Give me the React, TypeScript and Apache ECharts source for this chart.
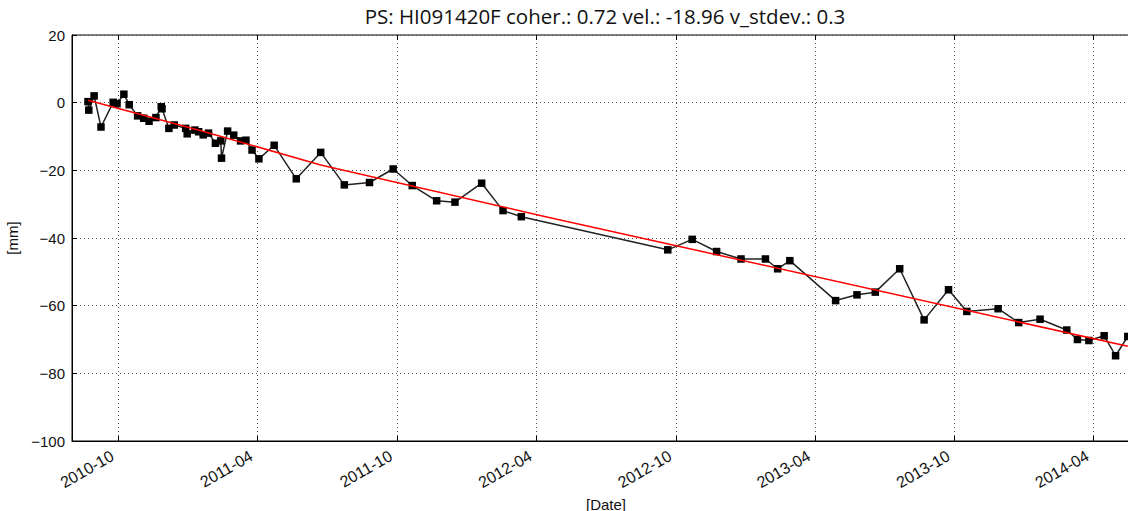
import React, { useEffect, useRef } from "react";
import * as echarts from "echarts";

const TITLE = "PS: HI091420F coher.: 0.72 vel.: -18.96 v_stdev.: 0.3";

const dates: string[] = [
  "2010-08-22", "2010-08-23", "2010-08-30", "2010-09-08", "2010-09-24", "2010-09-29",
  "2010-10-08", "2010-10-15", "2010-10-26", "2010-11-03", "2010-11-10", "2010-11-19",
  "2010-11-26", "2010-11-27", "2010-12-06", "2010-12-13", "2010-12-28", "2010-12-30",
  "2011-01-09", "2011-01-14", "2011-01-20", "2011-01-27", "2011-02-05", "2011-02-12",
  "2011-02-13", "2011-02-21", "2011-03-01", "2011-03-10", "2011-03-17", "2011-03-25",
  "2011-04-03", "2011-04-23", "2011-05-22", "2011-06-23", "2011-07-24", "2011-08-26",
  "2011-09-26", "2011-10-21", "2011-11-22", "2011-12-16", "2012-01-20", "2012-02-17",
  "2012-03-12", "2012-09-20", "2012-10-22", "2012-11-23", "2012-12-25", "2013-01-26",
  "2013-02-11", "2013-02-27", "2013-04-28", "2013-05-26", "2013-06-19", "2013-07-21",
  "2013-08-22", "2013-09-23", "2013-10-17", "2013-11-27", "2013-12-24", "2014-01-21",
  "2014-02-25", "2014-03-11", "2014-03-26", "2014-04-15", "2014-04-30", "2014-05-16",
];

const displacement: number[] = [
  0.3, -2.2, 2.0, -7.2, 0.1, -0.3,
  2.5, -0.6, -3.9, -4.6, -5.5, -4.4,
  -1.2, -1.8, -7.6, -6.6, -7.6, -9.2,
  -8.1, -8.6, -9.5, -9.0, -12.0, -11.3,
  -16.4, -8.4, -9.6, -11.3, -11.1, -14.0,
  -16.6, -12.6, -22.5, -14.7, -24.3, -23.6,
  -19.6, -24.5, -29.0, -29.4, -23.8, -31.9,
  -33.7, -43.5, -40.4, -44.0, -46.2, -46.2,
  -49.1, -46.7, -58.5, -56.8, -56.0, -49.1,
  -64.2, -55.3, -61.7, -60.9, -65.0, -64.0,
  -67.2, -70.0, -70.3, -68.9, -74.8, -69.1,
];

const fitDates: string[] = ["2010-08-22", "2011-01-17", "2011-06-23", "2012-04-07", "2014-05-16"];
const fitValues: number[] = [0.7, -8.3, -18.4, -33.4, -72.0];

const xTickDates: string[] = [
  "2010-10-01", "2011-04-01", "2011-10-01", "2012-04-01",
  "2012-10-01", "2013-04-01", "2013-10-01", "2014-04-01",
];
const xMinDate = "2010-08-01";
const xMaxDate = "2014-06-01";
const yTicks = { min: -100, max: 20, interval: 20 };

const toTs = (s: string) => {
  const [y, m, d] = s.split("-").map(Number);
  return new Date(y, m - 1, d).getTime();
};
const fmtMonth = (v: number) => {
  const d = new Date(v);
  return `${d.getFullYear()}-${String(d.getMonth() + 1).padStart(2, "0")}`;
};
const fmtY = (v: number) => (v < 0 ? "\u2212" + Math.abs(v) : String(v));

export default function App() {
  const ref = useRef<HTMLDivElement>(null);
  useEffect(() => {
    document.body.style.margin = "0";
    if (!ref.current) return;
    const chart = echarts.init(ref.current, undefined, { renderer: "svg" });
    const tickVals = xTickDates.map(toTs);
    const xmin = toTs(xMinDate);
    const xmax = toTs(xMaxDate);
    const labelFont = "'Liberation Sans', Arial, sans-serif";
    const gridLine = { show: true, lineStyle: { color: "#555", type: [1, 3] as any, width: 1 } };
    chart.setOption({
      animation: false,
      backgroundColor: "#fff",
      title: {
        text: TITLE,
        left: 605,
        textAlign: "center",
        top: 5,
        padding: 0,
        textStyle: { fontFamily: "'Open Sans', sans-serif", fontSize: 20.5, fontWeight: "normal", color: "#111" },
      },
      grid: {
        left: 72,
        right: 0,
        top: 35,
        bottom: 70,
        containLabel: false,
        outerBoundsMode: "none",
        show: true,
        borderColor: "#000",
        borderWidth: 1,
        backgroundColor: "transparent",
      },
      xAxis: [
        {
          type: "value",
          min: xmin,
          max: xmax,
          name: "[Date]",
          nameLocation: "middle",
          nameGap: 44,
          nameTextStyle: { fontFamily: labelFont, fontSize: 15, color: "#111" },
          axisLine: { show: true, onZero: false, lineStyle: { color: "#000", width: 1 } },
          axisTick: { show: true, inside: true, length: 5, lineStyle: { color: "#000" }, customValues: tickVals },
          axisLabel: {
            show: true,
            rotate: 30,
            margin: 10,
            padding: [0, 7, 0, 0],
            fontFamily: labelFont,
            fontSize: 16,
            color: "#111",
            customValues: tickVals,
            formatter: (v: number) => fmtMonth(v),
          },
          splitLine: gridLine,
        },
        {
          type: "value",
          position: "top",
          min: xmin,
          max: xmax,
          axisLine: { show: false, onZero: false },
          axisTick: { show: true, inside: true, length: 5, lineStyle: { color: "#000" }, customValues: tickVals },
          axisLabel: { show: false },
          splitLine: { show: false },
        },
      ],
      yAxis: {
        type: "value",
        min: yTicks.min,
        max: yTicks.max,
        interval: yTicks.interval,
        name: "[mm]",
        nameLocation: "middle",
        nameGap: 50,
        nameRotate: 90,
        nameTextStyle: { fontFamily: labelFont, fontSize: 15, color: "#111" },
        axisLine: { show: true, onZero: false, lineStyle: { color: "#000", width: 1 } },
        axisTick: { show: true, inside: true, length: 5, lineStyle: { color: "#000" } },
        axisLabel: { fontFamily: labelFont, fontSize: 15, color: "#111", margin: 7, formatter: (v: number) => fmtY(v) },
        splitLine: gridLine,
      },
      series: [
        {
          type: "line",
          name: "data",
          data: dates.map((d, i) => [toTs(d), displacement[i]]),
          symbol: "rect",
          symbolSize: 7.5,
          itemStyle: { color: "#000" },
          lineStyle: { color: "#222", width: 1.5 },
          z: 3,
        },
        {
          type: "line",
          name: "fit",
          data: fitDates.map((d, i) => [toTs(d), fitValues[i]]),
          symbol: "none",
          lineStyle: { color: "#ff0000", width: 1.5 },
          z: 4,
        },
      ],
    });
    return () => chart.dispose();
  }, []);
  return (
    <div style={{ width: 1128, height: 511, overflow: "hidden", position: "relative" }}>
      <div ref={ref} style={{ width: 1140, height: 511 }} />
    </div>
  );
}
